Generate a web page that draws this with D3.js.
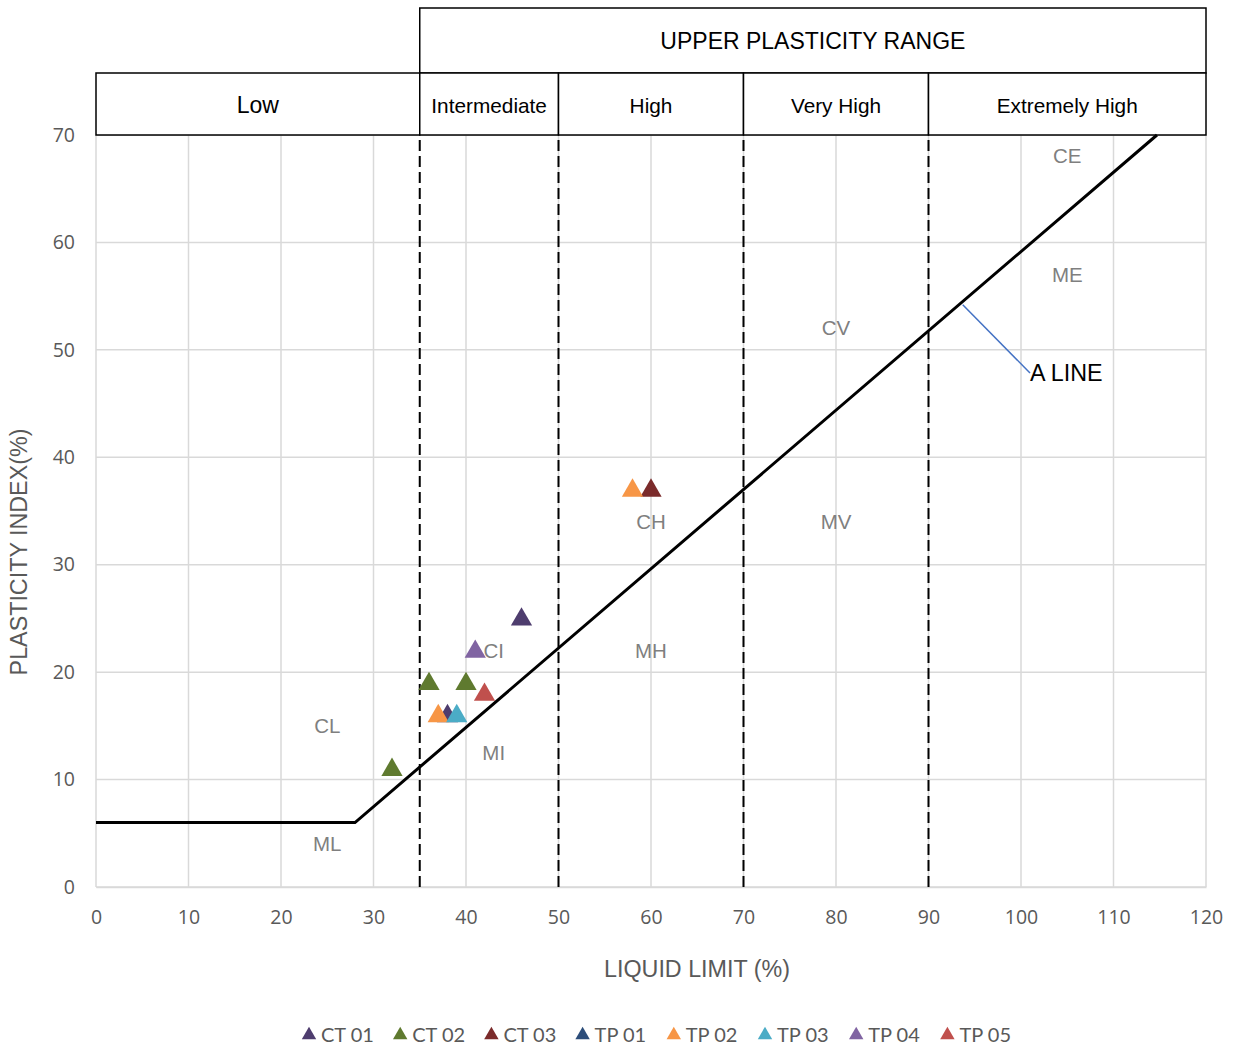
<!DOCTYPE html>
<html><head><meta charset="utf-8">
<script src="https://cdn.jsdelivr.net/npm/d3@7"></script>
<style>body{margin:0;background:#fff}svg{display:block}</style>
</head><body><svg id="c" width="1237" height="1050"></svg>
<script>
// ---- data ----
const seriesNames = ["CT 01","CT 02","CT 03","TP 01","TP 02","TP 03","TP 04","TP 05"];
const seriesColors = ["#4e3d6e","#5f7a2f","#7b2b2b","#2c4d7a","#f79646","#4bacc6","#8064a2","#c0504d"];
const ct01 = [[46,25],[38,16]];
const ct02 = [[32,11],[36,19],[40,19]];
const ct03 = [[60,37]];
const tp01 = [];
const tp02 = [[37,16],[58,37]];
const tp03 = [[39,16]];
const tp04 = [[41,22]];
const tp05 = [[42,18]];
const seriesData = [ct01,ct02,ct03,tp01,tp02,tp03,tp04,tp05];
const aLine = [[0,6],[28,6],[114.7,70]];
const dividers = [35,50,70,90];
const rangeNames = ["Low","Intermediate","High","Very High","Extremely High"];
const rangeBounds = [0,35,50,70,90,120];
const zoneLabels = [["CE",105,68],["ME",105,57],["CV",80,52],["CH",60,34],["MV",80,34],["CI",43,22],["MH",60,22],["CL",25,15],["MI",43,12.5],["ML",25,4]];
const xTicks = [0,10,20,30,40,50,60,70,80,90,100,110,120];
const yTicks = [0,10,20,30,40,50,60,70];

// ---- drawing ----
const svg = d3.select("#c");
const x = d3.scaleLinear().domain([0,120]).range([96,1206]);
const y = d3.scaleLinear().domain([0,70]).range([887,135]);
const gray = "#595959";
const sans = "'Liberation Sans',Arial,sans-serif";

// gridlines
svg.append("g").selectAll("line").data(xTicks).join("line")
  .attr("x1",d=>x(d)).attr("x2",d=>x(d)).attr("y1",y(0)).attr("y2",y(70))
  .attr("stroke","#d9d9d9").attr("stroke-width",1.5);
svg.append("g").selectAll("line").data(yTicks).join("line")
  .attr("x1",x(0)).attr("x2",x(120)).attr("y1",d=>y(d)).attr("y2",d=>y(d))
  .attr("stroke","#d9d9d9").attr("stroke-width",1.5);

// axes
const xAxis = svg.append("g").attr("transform",`translate(0,${y(0)})`)
  .call(d3.axisBottom(x).tickValues(xTicks).tickSize(0).tickPadding(23));
xAxis.select(".domain").attr("stroke","#d9d9d9").attr("stroke-width",1.5);
xAxis.selectAll("text").attr("fill",gray).style("font-family","'Open Sans',sans-serif").style("font-size","19.5px");
const yAxis = svg.append("g").attr("transform",`translate(${x(0)},0)`)
  .call(d3.axisLeft(y).tickValues(yTicks).tickSize(0).tickPadding(21));
yAxis.select(".domain").remove();
yAxis.selectAll("text").attr("fill",gray).style("font-family","'Open Sans',sans-serif").style("font-size","19.5px");

// axis titles
svg.append("text").attr("x",697).attr("y",977).attr("text-anchor","middle")
  .attr("fill",gray).style("font-family",sans).style("font-size","23.3px").text("LIQUID LIMIT (%)");
svg.append("text").attr("transform","translate(27,552) rotate(-90)").attr("text-anchor","middle")
  .attr("fill",gray).style("font-family",sans).style("font-size","23.3px").text("PLASTICITY INDEX(%)");

// dividers
svg.append("g").selectAll("line").data(dividers).join("line")
  .attr("x1",d=>x(d)).attr("x2",d=>x(d)).attr("y1",y(0)).attr("y2",y(70))
  .attr("stroke","#000").attr("stroke-width",2).attr("stroke-dasharray","11,5");

// header boxes
const hdr = svg.append("g").style("font-family",sans);
hdr.append("rect").attr("x",x(35)).attr("y",8).attr("width",x(120)-x(35)).attr("height",65)
  .attr("fill","#fff").attr("stroke","#000").attr("stroke-width",1.5);
hdr.append("text").attr("x",(x(35)+x(120))/2).attr("y",49).attr("text-anchor","middle")
  .style("font-size","23px").text("UPPER PLASTICITY RANGE");
rangeNames.forEach((n,i)=>{
  const x0 = x(rangeBounds[i]), x1 = x(rangeBounds[i+1]);
  hdr.append("rect").attr("x",x0).attr("y",73).attr("width",x1-x0).attr("height",y(70)-73)
    .attr("fill","#fff").attr("stroke","#000").attr("stroke-width",1.5);
  hdr.append("text").attr("x",(x0+x1)/2).attr("y",113).attr("text-anchor","middle")
    .style("font-size", i===0 ? "23px" : "20.8px").text(n);
});

// zone labels
svg.append("g").selectAll("text").data(zoneLabels).join("text")
  .attr("x",d=>x(d[1])).attr("y",d=>y(d[2])+7).attr("text-anchor","middle")
  .attr("fill","#7f7f7f").style("font-family",sans).style("font-size","20.5px")
  .text(d=>d[0]);

// A line
svg.append("path").datum(aLine)
  .attr("d",d3.line().x(d=>x(d[0])).y(d=>y(d[1])))
  .attr("fill","none").attr("stroke","#000").attr("stroke-width",3);
// A LINE annotation
svg.append("line").attr("x1",x(93.7)).attr("y1",y(54.2)).attr("x2",1030).attr("y2",373)
  .attr("stroke","#4472c4").attr("stroke-width",1.5);
svg.append("text").attr("x",1030).attr("y",381)
  .style("font-family",sans).style("font-size","23.3px").attr("fill","#000").text("A LINE");

// markers
const tri = d3.symbol().type(d3.symbolTriangle).size(195);
seriesData.forEach((pts,i)=>{
  svg.append("g").selectAll("path").data(pts).join("path")
    .attr("d",tri).attr("transform",d=>`translate(${x(d[0])},${y(d[1])+1})`)
    .attr("fill",seriesColors[i]);
});

// legend
const lg = svg.append("g");
seriesNames.forEach((n,i)=>{
  const lx = 309 + i*91.2;
  lg.append("path").attr("d",d3.symbol().type(d3.symbolTriangle).size(90))
    .attr("transform",`translate(${lx},1035)`).attr("fill",seriesColors[i]);
  lg.append("text").attr("x",lx+12).attr("y",1042).attr("fill",gray)
    .style("font-family","Lato,sans-serif").style("font-size","20px").text(n);
});
</script></body></html>
